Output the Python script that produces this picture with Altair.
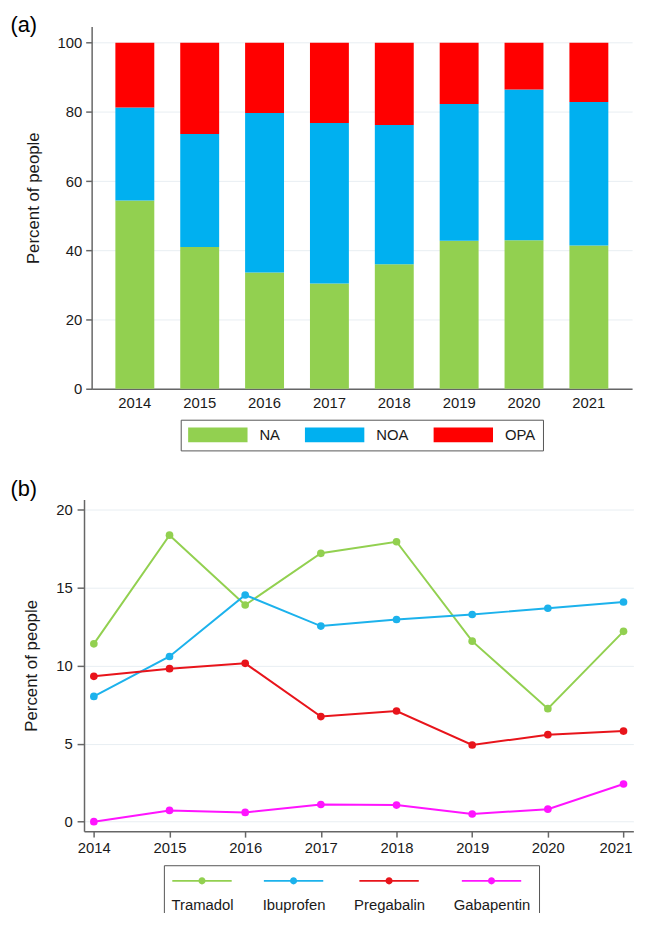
import altair as alt
import pandas as pd

# ---------------- data ----------------
years = [2014, 2015, 2016, 2017, 2018, 2019, 2020, 2021]

categories = ["NA", "NOA", "OPA"]
cat_colors = ["#92d050", "#00b0f0", "#ff0000"]
na_pct = [54.4, 41.0, 33.6, 30.4, 36.0, 42.8, 42.9, 41.4]
noa_pct = [26.9, 32.6, 46.1, 46.4, 40.2, 39.5, 43.6, 41.5]
opa_pct = [18.7, 26.4, 20.3, 23.2, 23.8, 17.7, 13.5, 17.1]

drugs = ["Tramadol", "Ibuprofen", "Pregabalin", "Gabapentin"]
drug_colors = ["#92d050", "#1cb2ec", "#e8141b", "#ff14ff"]
tramadol = [11.39, 18.35, 13.88, 17.19, 17.93, 11.56, 7.24, 12.19]
ibuprofen = [8.02, 10.58, 14.52, 12.53, 12.95, 13.27, 13.67, 14.07]
pregabalin = [9.31, 9.80, 10.14, 6.73, 7.09, 4.91, 5.57, 5.80]
gabapentin = [0.0, 0.72, 0.59, 1.10, 1.06, 0.49, 0.80, 2.41]

y_ticks_a = [0, 20, 40, 60, 80, 100]
y_ticks_b = [0, 5, 10, 15, 20]

FONT = "Liberation Sans"
AXIS_COL = "#666666"
LABEL_COL = "#1a1a1a"
GRID_COL = "#e8eef2"

# ---------------- tables ----------------
rows_a = []
for rank, (cat, vals) in enumerate(zip(categories, [na_pct, noa_pct, opa_pct])):
    for y, v in zip(years, vals):
        rows_a.append({"year": str(y), "group": cat, "pct": v, "rank": rank})
df_a = pd.DataFrame(rows_a)

rows_b = []
for drug, vals in zip(drugs, [tramadol, ibuprofen, pregabalin, gabapentin]):
    for y, v in zip(years, vals):
        rows_b.append({"year": y, "drug": drug, "pct": v})
df_b = pd.DataFrame(rows_b)

# ---------------- panel (a) ----------------
bars = alt.Chart(df_a).mark_bar().encode(
    x=alt.X(
        "year:N",
        sort=[str(y) for y in years],
        scale=alt.Scale(paddingInner=0.4, paddingOuter=0.366),
        axis=alt.Axis(
            title=None, labelAngle=0, ticks=False, tickSize=0, labelPadding=7,
            labelFontSize=15, labelColor=LABEL_COL, domainColor=AXIS_COL,
            domainWidth=1.5, grid=False,
        ),
    ),
    y=alt.Y(
        "pct:Q",
        stack="zero",
        scale=alt.Scale(domain=[0, 104.7], nice=False, zero=False),
        axis=alt.Axis(
            values=y_ticks_a, title="Percent of people", titleFontSize=17,
            titleFontWeight="normal", titleColor=LABEL_COL, titlePadding=15,
            titleY=173, labelFontSize=15, labelColor=LABEL_COL, labelPadding=4,
            tickSize=6, tickColor=AXIS_COL, tickWidth=1.5, domainColor=AXIS_COL,
            domainWidth=1.5, grid=True, gridColor=GRID_COL, gridWidth=1,
        ),
    ),
    color=alt.Color(
        "group:N",
        sort=categories,
        scale=alt.Scale(domain=categories, range=cat_colors),
        legend=alt.Legend(
            title=None, orient="none", legendX=90, legendY=397.3,
            direction="horizontal", symbolType="M-1,-1H7V1H-1Z", symbolSize=225,
            symbolStrokeWidth=0, symbolOpacity=1, labelFontSize=15,
            labelColor=LABEL_COL, labelOffset=57, columnPadding=25,
            padding=7.5, strokeColor="#555555",
        ),
    ),
    order=alt.Order("rank:Q", sort="ascending"),
)

tag_a = alt.Chart(pd.DataFrame({"tag": ["(a)"]})).mark_text(
    align="left", baseline="top", fontSize=22, font=FONT, color="#000000"
).encode(text="tag:N", x=alt.value(-82), y=alt.value(-11))

panel_a = alt.layer(bars, tag_a).properties(width=546, height=366)

# ---------------- panel (b) ----------------
x_b = alt.X(
    "year:Q",
    scale=alt.Scale(domain=[2013.87, 2021.13], nice=False, zero=False,
                    range=[-7.7, 547.3]),
    axis=alt.Axis(
        values=years, format="d", title=None, tickSize=6, tickColor=AXIS_COL,
        tickWidth=1.5, labelPadding=4, labelFontSize=15, labelColor=LABEL_COL,
        labelFlush=False, domainColor=AXIS_COL, domainWidth=1.5, grid=False,
        labelOffset={"condition": {"test": "datum.value == 2021", "value": -8},
                     "value": 0},
    ),
)
y_b = alt.Y(
    "pct:Q",
    scale=alt.Scale(domain=[-0.61, 20.63], nice=False, zero=False),
    axis=alt.Axis(
        values=y_ticks_b, title="Percent of people", titleFontSize=17,
        titleFontWeight="normal", titleColor=LABEL_COL, titlePadding=15,
        labelFontSize=15, labelColor=LABEL_COL, labelPadding=5, tickSize=7,
        tickColor=AXIS_COL, tickWidth=1.5, domainColor=AXIS_COL,
        domainWidth=1.5, grid=True, gridColor=GRID_COL, gridWidth=1,
        offset=7.7,
    ),
)

lines = alt.Chart(df_b).mark_line(strokeWidth=2, opacity=1).encode(
    x=x_b, y=y_b,
    stroke=alt.Stroke("drug:N", sort=drugs,
                      scale=alt.Scale(domain=drugs, range=drug_colors),
                      legend=None),
)
points = alt.Chart(df_b).mark_circle(size=60, opacity=1).encode(
    x=x_b, y=y_b,
    color=alt.Color(
        "drug:N", sort=drugs,
        scale=alt.Scale(domain=drugs, range=drug_colors),
        legend=alt.Legend(
            title=None, orient="none", legendX=73, legendY=369.4,
            direction="horizontal",
            symbolType="M-7,-0.9H53V0.9H-7Z M19.4,0A3.6,3.6 0 1,1 26.6,0A3.6,3.6 0 1,1 19.4,0Z",
            symbolSize=4, symbolStrokeWidth=0, symbolOpacity=1,
            labelFontSize=15, labelColor=LABEL_COL, labelExpr="['', datum.label]",
            labelBaseline="top", labelAlign="center", labelOffset=16,
            columnPadding=28.5, padding=8, strokeColor="#555555",
        ),
    ),
)

tag_b = alt.Chart(pd.DataFrame({"tag": ["(b)"]})).mark_text(
    align="left", baseline="top", fontSize=22, font=FONT, color="#000000"
).encode(text="tag:N", x=alt.value(-82), y=alt.value(-21))

panel_b = alt.layer(lines, points, tag_b).properties(width=547.3, height=335)

# ---------------- compose ----------------
chart = alt.concat(
    panel_a, panel_b, columns=1, spacing=27
).resolve_scale(
    color="independent"
).resolve_legend(
    color="independent"
).properties(
    padding={"left": 2.5, "top": 2, "right": -2, "bottom": -13}
).configure(
    font=FONT
).configure_view(
    stroke=None
).configure_axis(
    labelFont=FONT, titleFont=FONT
).configure_legend(
    labelFont=FONT
)

chart.save("out.html", embed_options={"renderer": "svg", "actions": False})
